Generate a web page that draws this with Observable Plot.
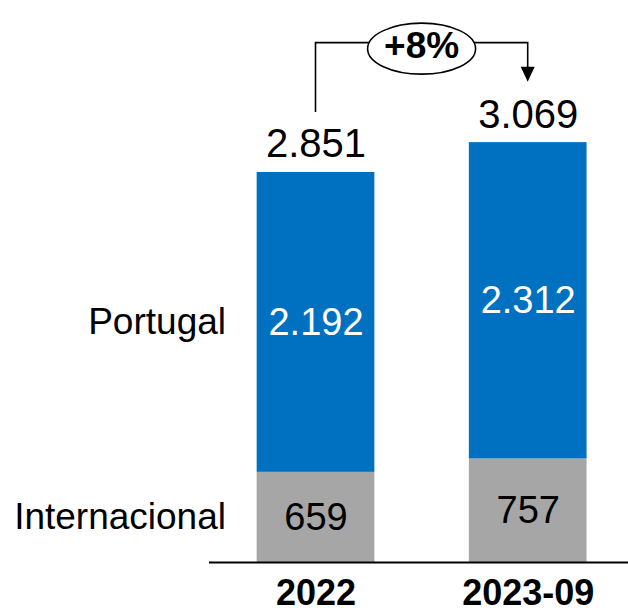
<!DOCTYPE html>
<html><head><meta charset="utf-8">
<script src="https://cdn.jsdelivr.net/npm/d3@7"></script>
<script src="https://cdn.jsdelivr.net/npm/@observablehq/plot@0.6"></script>
<style>html,body{margin:0;padding:0;background:#fff;} #chart svg{display:block;}</style>
</head><body><div id="chart"></div>
<script>
// ---- data ----
const years = ["2022", "2023-09"];
const series = ["Internacional", "Portugal"];
const internacional = [659, 757];
const portugal = [2192, 2312];
const seriesColors = {Internacional: "#A6A6A6", Portugal: "#0070C0"};
const labelColors = {Internacional: "#000000", Portugal: "#ffffff"};

const data = years.flatMap((year, i) => [
  {year, series: series[0], value: internacional[i]},
  {year, series: series[1], value: portugal[i]}
]);
const totals = years.map((year, i) => ({year, total: internacional[i] + portugal[i]}));
const locale = d3.formatLocale({decimal: ",", thousands: ".", grouping: [3], currency: ["", " €"]});
const fmt = locale.format(",d");
const growth = "+" + Math.round((totals[1].total / totals[0].total - 1) * 100) + "%";

function bracket(index, scales) {
  const {x, y} = scales;
  const bw = typeof x.bandwidth === "function" ? x.bandwidth() : 0;
  const x1 = x(totals[0].year) + bw / 2, x2 = x(totals[1].year) + bw / 2;
  const y1 = y(totals[0].total) - 60, y2 = y(totals[1].total) - 60.5;
  const level = y(d3.max(totals, d => d.total)) - 99.5;
  const cx = (x1 + x2) / 2, cy = level + 6;
  const g = d3.create("svg:g").attr("fill", "none").attr("stroke", "black").attr("stroke-width", 1.6);
  g.append("path").attr("d", `M${x1},${y1}V${level}H${x2}V${y2 - 14}`);
  g.append("path").attr("d", `M${x2 - 7},${y2 - 15}L${x2 + 7},${y2 - 15}L${x2},${y2}Z`).attr("fill", "black").attr("stroke", "none");
  g.append("ellipse").attr("cx", cx).attr("cy", cy).attr("rx", 54).attr("ry", 25.5).attr("fill", "white");
  g.append("text").attr("x", cx).attr("y", level + 15).attr("text-anchor", "middle")
    .attr("fill", "black").attr("stroke", "none").attr("font-size", 37).attr("font-weight", "bold").text(growth);
  return g.node();
}

const chart = Plot.plot({
  width: 628, height: 612,
  marginLeft: 209, marginRight: 0, marginTop: 0, marginBottom: 50,
  style: {fontFamily: "'Liberation Sans', Arial, sans-serif", background: "white", color: "black", overflow: "visible"},
  x: {domain: years, range: [209.4, 633.8], paddingInner: 0.4453, paddingOuter: 0.2227, round: false, axis: null},
  y: {domain: [0, 4108], axis: null},
  color: {type: "identity"},
  marks: [
    Plot.barY(data, {x: "year", y: "value", z: "series", fill: d => seriesColors[d.series]}),
    Plot.ruleY([0], {stroke: "black", strokeWidth: 2}),
    Plot.text(data, Plot.stackY({x: "year", y: "value", z: "series", text: d => fmt(d.value), fill: d => labelColors[d.series], fontSize: 38})),
    Plot.text(data.filter(d => d.year === years[0]), Plot.stackY({x: "year", y: "value", z: "series", text: "series", textAnchor: "end", dx: -90, fontSize: 37, fill: "black"})),
    Plot.text(totals, {x: "year", y: "total", text: d => fmt(d.total), lineAnchor: "bottom", dy: -15, fontSize: 40, fill: "black"}),
    Plot.text(years, {x: d => d, frameAnchor: "bottom", lineAnchor: "bottom", dy: 42, fontSize: 36, fontWeight: "bold", fill: "black"}),
    bracket
  ]
});
document.getElementById("chart").appendChild(chart);
</script>
</body></html>
